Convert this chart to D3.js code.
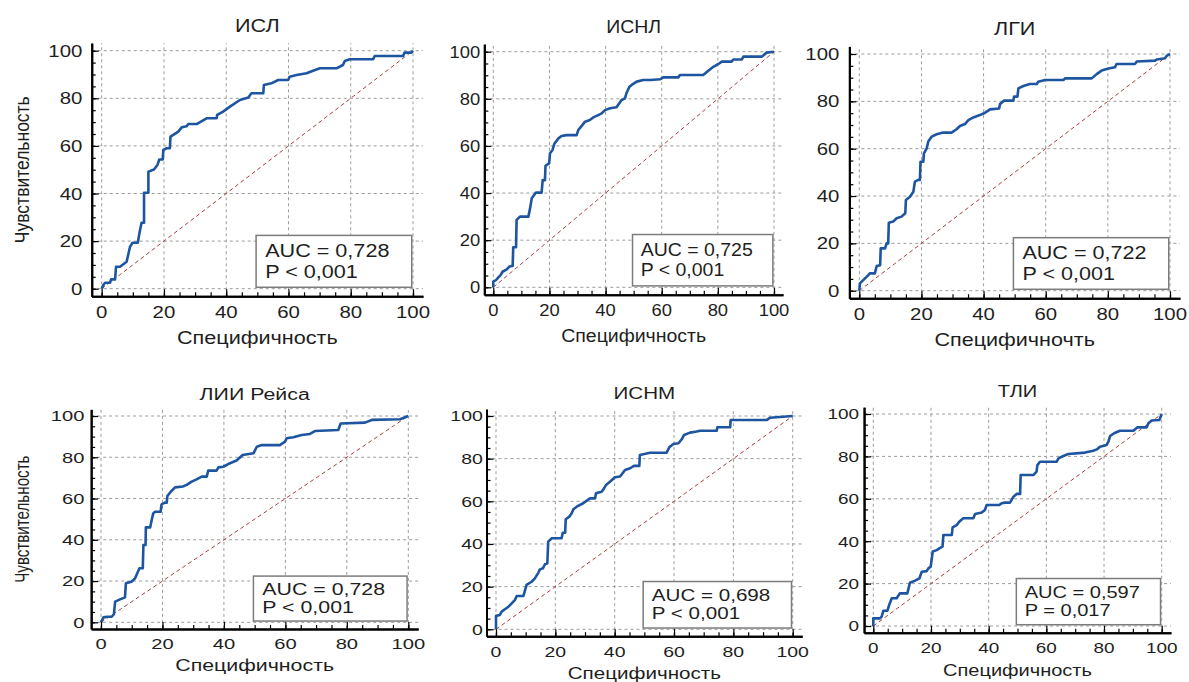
<!DOCTYPE html>
<html>
<head>
<meta charset="utf-8">
<script src="https://cdn.jsdelivr.net/npm/d3@7"></script>
<style>
  html, body { margin: 0; padding: 0; background: #fff; }
  svg { display: block; }
  text { font-family: "Liberation Sans", Arial, sans-serif; fill: #1e1e1e; }
</style>
</head>
<body>
<svg id="chart" width="1189" height="682"></svg>
<script>
// ---- labels ----
const titles = ["ИСЛ", "ИСНЛ", "ЛГИ", "ЛИИ Рейса", "ИСНМ", "ТЛИ"];
const xTitles = ["Специфичность", "Специфичность", "Специфичночть",
                 "Специфичность", "Специфичность", "Специфичность"];
const yTitle = "Чувствительность";
const aucLabels = ["AUC = 0,728", "AUC = 0,725", "AUC = 0,722",
                   "AUC = 0,728", "AUC = 0,698", "AUC = 0,597"];
const pLabels = ["P < 0,001", "P < 0,001", "P < 0,001",
                 "P < 0,001", "P < 0,001", "P = 0,017"];
const majorTicks = [0, 20, 40, 60, 80, 100];
const minorTicks = d3.range(0, 101, 5);

// ---- ROC curves: [specificity, sensitivity] ----
const rocISL = [[0,0],[0.5,1.5],[1.1,2.5],[2.7,2.5],[3.0,3.9],[4.3,3.9],[4.6,9.2],[5.9,9.2],[8.0,11.3],[9.1,17.6],[9.9,19.3],[11.6,19.3],[12.1,23.2],[12.8,27.7],[13.6,27.7],[13.6,40.3],[15.0,40.3],[15.0,49.2],[16.8,50.1],[17.9,52.0],[18.5,54.3],[19.6,54.3],[19.8,58.3],[20.9,59.0],[21.9,59.0],[22.1,63.9],[23.0,64.6],[24.6,66.0],[25.7,67.8],[27.3,68.3],[27.8,69.2],[30.5,69.2],[33.7,71.6],[36.9,71.6],[37.1,73.0],[39.0,74.4],[41.2,76.5],[44.4,79.3],[47.1,80.3],[48.1,82.1],[51.9,82.1],[52.1,85.6],[54.5,86.3],[56.7,87.7],[59.9,87.7],[60.4,89.1],[62.6,89.8],[65.8,90.5],[67.9,91.6],[70.1,92.6],[75.4,92.6],[77.5,94.0],[78.1,95.7],[79.7,96.4],[87.2,96.4],[87.7,97.8],[96.8,97.8],[97.3,99.2],[99.5,99.2],[100,100]];
const rocISNL = [[0,0],[0,2.4],[1.0,3.1],[1.8,4.2],[2.6,5.2],[3.3,6.6],[4.8,7.6],[5.7,8.8],[6.9,9.1],[7.1,17.0],[8.1,17.0],[8.3,28.6],[9.5,30.0],[12.5,30.0],[13.1,33.5],[13.7,37.8],[15.2,40.2],[17.2,40.2],[17.6,45.5],[18.4,45.5],[18.6,51.6],[19.9,52.6],[20.2,56.9],[21.1,58.3],[21.7,60.8],[23.2,63.2],[24.3,64.2],[26.1,64.6],[29.7,64.6],[30.3,66.8],[31.5,68.5],[32.7,70.3],[34.4,71.0],[35.6,72.1],[37.4,73.1],[38.6,73.8],[39.8,75.2],[41.6,76.0],[43.9,76.4],[45.7,79.5],[46.9,80.2],[47.5,82.6],[48.5,85.1],[49.3,85.9],[51.1,87.3],[53.4,88.0],[55.8,88.0],[59.4,88.3],[60.6,89.1],[65.9,89.1],[66.5,90.1],[74.8,90.1],[76.6,91.9],[78.4,93.6],[80.2,94.8],[81.4,95.8],[84.9,95.8],[85.5,96.7],[88.5,96.7],[89.1,97.9],[95.6,97.9],[97.4,99.6],[100,100]];
const rocLGI = [[0,0],[0.2,3.1],[1.5,4.8],[2.9,6.6],[3.4,7.3],[5.0,7.3],[5.6,10.4],[6.7,10.8],[6.9,17.9],[8.3,17.9],[8.8,20.0],[9.3,20.0],[9.5,28.7],[10.9,29.2],[12.0,30.6],[13.6,31.3],[14.8,32.7],[15.0,38.3],[16.3,39.7],[17.4,41.8],[17.9,46.1],[19.0,46.8],[19.5,46.8],[19.7,54.5],[20.6,54.5],[20.8,58.0],[21.7,60.1],[22.2,63.0],[23.3,65.1],[24.9,66.1],[27.0,66.8],[29.7,66.8],[31.3,68.2],[32.4,69.6],[34.0,70.4],[35.1,72.1],[36.7,73.2],[38.8,74.2],[40.5,75.2],[42.1,76.6],[45.0,77.0],[45.3,78.9],[46.6,80.3],[49.6,80.3],[49.8,82.0],[50.9,82.0],[51.2,85.5],[52.8,86.5],[54.9,87.3],[57.1,87.3],[57.6,88.3],[59.8,89.0],[65.7,89.0],[66.2,89.7],[74.8,89.7],[76.4,91.5],[78.0,93.0],[80.2,93.9],[82.3,94.4],[82.8,95.8],[88.7,95.8],[89.3,96.8],[95.2,97.2],[95.7,97.7],[98.4,98.2],[98.9,99.2],[100,100]];
const rocLII = [[0,0],[0.8,2.4],[2.0,2.7],[3.5,2.7],[4.2,3.9],[4.6,10.0],[6.2,11.1],[7.8,12.1],[8.1,18.9],[9.9,19.7],[11.1,21.3],[12.5,26.2],[13.6,26.2],[13.8,37.5],[14.5,37.5],[14.6,46.0],[16.0,46.0],[16.5,49.6],[17.0,52.8],[17.6,53.6],[19.4,53.6],[19.7,57.2],[20.8,58.0],[21.4,58.0],[21.6,61.2],[22.7,63.3],[24.1,65.4],[26.6,65.8],[27.9,66.6],[29.5,68.2],[31.1,69.3],[32.8,70.6],[34.4,70.6],[34.9,73.5],[37.6,73.5],[38.2,75.1],[39.8,75.4],[41.4,76.7],[44.1,78.4],[46.1,81.1],[49.6,81.9],[50.7,85.1],[52.3,85.9],[58.2,85.9],[59.9,87.6],[60.4,89.2],[62.6,89.7],[65.3,90.8],[68.0,91.3],[69.6,92.7],[77.2,93.2],[78.0,96.4],[85.9,96.8],[88.1,98.1],[97.3,98.4],[100,100]];
const rocISNM = [[0,0],[0,6.3],[1.3,6.7],[1.9,8.3],[3.0,9.4],[4.2,10.6],[5.3,12.2],[6.4,13.8],[7.0,15.6],[9.2,15.6],[9.8,18.4],[10.3,20.8],[12.0,22.3],[13.1,23.9],[14.3,26.6],[14.8,28.1],[15.8,28.6],[16.5,30.5],[17.3,30.9],[17.6,41.1],[18.8,42.7],[22.1,42.7],[22.5,45.3],[23.3,45.3],[23.5,51.6],[24.7,52.8],[25.5,54.4],[26.1,56.3],[27.2,57.5],[29.4,59.1],[30.6,60.3],[31.7,61.4],[33.4,61.4],[33.7,63.8],[35.6,64.5],[36.2,65.6],[37.1,67.7],[38.4,69.2],[40.1,71.3],[41.8,71.6],[43.5,74.7],[45.2,75.5],[46.5,76.6],[48.3,76.6],[48.5,81.7],[51.9,82.8],[57.5,82.8],[58.4,85.3],[59.8,86.9],[61.5,87.2],[62.6,89.1],[63.4,91.1],[65.4,92.2],[67.6,92.7],[68.8,93.1],[74.4,93.1],[74.6,94.7],[78.9,94.7],[79.1,98.1],[91.2,98.1],[92.4,99.2],[100,100]];
const rocTLI = [[0,0],[0,3.6],[2.3,3.6],[2.9,4.4],[3.5,7.2],[4.9,7.2],[5.5,9.9],[6.4,13.1],[8.1,13.1],[9.2,15.4],[11.8,15.4],[12.7,20.4],[14.5,21.4],[16.0,22.5],[16.8,25.6],[18.5,25.9],[19.1,27.2],[19.9,28.0],[20.6,35.1],[22.0,35.8],[22.9,36.6],[24.0,37.4],[24.3,42.9],[27.2,42.9],[27.5,46.5],[28.9,47.6],[29.8,49.2],[31.2,50.8],[34.7,50.8],[35.3,52.8],[37.6,53.5],[38.7,54.7],[39.3,57.1],[43.7,57.1],[44.5,57.9],[45.7,58.2],[47.4,58.2],[48.6,61.0],[49.7,62.3],[50.9,62.3],[51.1,71.2],[55.5,71.2],[56.6,72.8],[56.9,75.9],[57.8,77.5],[63.6,77.5],[64.2,79.1],[65.9,80.2],[67.6,81.1],[73.4,81.8],[76.3,82.7],[77.5,83.3],[78.6,84.6],[80.9,85.4],[81.5,86.9],[82.1,89.6],[83.5,90.9],[85.5,92.1],[90.2,92.1],[91.6,93.7],[94.8,93.7],[95.4,95.6],[96.5,96.9],[99.2,97.2],[100,100]];
const curves = [rocISL, rocISNL, rocLGI, rocLII, rocISNM, rocTLI];

// ---- panel placement: pixel position of 0 and 100 on each axis ----
const frames = [
  { x0: 101.7, x100: 413.0, y0: 288.7, y100: 50.7, gap: 9.4, showY: true },
  { x0: 493.3, x100: 774.0, y0: 287.3, y100: 51.7, gap: 4.0, showY: false },
  { x0: 859.3, x100: 1170.0, y0: 290.7, y100: 54.0, gap: 10.0, showY: false },
  { x0: 101.0, x100: 408.3, y0: 622.3, y100: 416.0, gap: 6.7, showY: true },
  { x0: 496.0, x100: 792.7, y0: 629.3, y100: 416.0, gap: 3.7, showY: false },
  { x0: 873.3, x100: 1161.7, y0: 626.0, y100: 414.0, gap: 5.0, showY: false }
];

const PAD_LO = -3.2, PAD_HI = 103.2;   // axis extent beyond the 0..100 range
const BASE_X = 2.592, BASE_Y = 2.38;   // px per unit at which text is unstretched

const svg = d3.select("#chart");

function label(g, x, y, str, opts) {
  const t = g.append("text")
    .attr("transform", `translate(${x},${y}) scale(${opts.sx},1)` + (opts.rotate ? " rotate(-90)" : ""))
    .attr("text-anchor", opts.anchor || "start")
    .style("font-size", opts.size + "px")
    .text(str);
  if (opts.central) t.attr("dominant-baseline", "central");
  return t;
}

frames.forEach((f, i) => {
  const g = svg.append("g");
  const base = {
    x: d3.scaleLinear().domain([0, 100]).range([f.x0, f.x100]),
    y: d3.scaleLinear().domain([0, 100]).range([f.y0, f.y100])
  };
  const x = d3.scaleLinear().domain([PAD_LO, PAD_HI]).range([base.x(PAD_LO), base.x(PAD_HI)]);
  const y = d3.scaleLinear().domain([PAD_LO, PAD_HI]).range([base.y(PAD_LO), base.y(PAD_HI)]);

  const gx = (f.x100 - f.x0) / 100 / BASE_X;
  const gy = (f.y0 - f.y100) / 100 / BASE_Y;
  const sx = gx / gy;

  const xL = x(PAD_LO), xR = x(PAD_HI), yB = y(PAD_LO), yT = y(PAD_HI);

  // dashed grid
  const grid = g.append("g")
    .attr("stroke", "#9c9c9c").attr("stroke-width", 1).attr("stroke-dasharray", "3,3");
  grid.selectAll("line.h").data(majorTicks).join("line").attr("class", "h")
    .attr("x1", xL).attr("x2", xR).attr("y1", d => y(d)).attr("y2", d => y(d));
  grid.selectAll("line.v").data(majorTicks).join("line").attr("class", "v")
    .attr("y1", yB).attr("y2", yT).attr("x1", d => x(d)).attr("x2", d => x(d));

  // reference diagonal
  g.append("line")
    .attr("x1", x(0)).attr("y1", y(0)).attr("x2", x(100)).attr("y2", y(100))
    .attr("stroke", "#a8403f").attr("stroke-width", 1).attr("stroke-dasharray", "4,3");

  // ROC curve
  g.append("path")
    .datum(curves[i])
    .attr("fill", "none")
    .attr("stroke", "#1d55a0")
    .attr("stroke-width", 2.6)
    .attr("stroke-linejoin", "round")
    .attr("d", d3.line().x(d => x(d[0])).y(d => y(d[1])));

  // AUC box
  g.append("rect")
    .attr("x", x(49.6)).attr("y", y(22.4))
    .attr("width", x(99.6) - x(49.6)).attr("height", y(0.6) - y(22.4))
    .attr("fill", "#fff").attr("stroke", "#7c7c7c").attr("stroke-width", 1.5);
  label(g, x(52.5), y(13.4), aucLabels[i], { sx, size: 18 * gy });
  label(g, x(52.5), y(4.6), pLabels[i], { sx, size: 18 * gy });

  // axes with inward ticks
  const axisStyle = sel => {
    sel.selectAll("text").remove();
    sel.selectAll("path.domain").attr("stroke", "#000").attr("stroke-width", 2);
    sel.selectAll(".tick line").attr("stroke", "#000").attr("stroke-width", 1.2);
  };
  g.append("g").attr("transform", `translate(${xL},0)`)
    .call(d3.axisLeft(y).tickValues(minorTicks).tickSizeInner(-4).tickSizeOuter(0))
    .call(axisStyle);
  g.append("g").attr("transform", `translate(${xL},0)`)
    .call(d3.axisLeft(y).tickValues(majorTicks).tickSizeInner(-7).tickSizeOuter(0))
    .call(axisStyle);
  g.append("g").attr("transform", `translate(0,${yB})`)
    .call(d3.axisBottom(x).tickValues(minorTicks).tickSizeInner(-4).tickSizeOuter(0))
    .call(axisStyle);
  g.append("g").attr("transform", `translate(0,${yB})`)
    .call(d3.axisBottom(x).tickValues(majorTicks).tickSizeInner(-7).tickSizeOuter(0))
    .call(axisStyle);

  // tick labels
  const tickSize = 17 * gy;
  majorTicks.forEach(v => {
    label(g, xL - f.gap, y(v) + 0.36 * tickSize, String(v), { sx, size: tickSize, anchor: "end" });
    label(g, x(v), yB + 14 + 7.5 * gy, String(v), { sx, size: tickSize, anchor: "middle" });
  });

  // titles
  const cx = (f.x0 + f.x100) / 2;
  label(g, cx, f.y100 - 19 * gy, titles[i], { sx, size: 18 * gy, anchor: "middle" });
  label(g, cx, yB + 48 * gy, xTitles[i], { sx, size: 18 * gy, anchor: "middle" });
  if (f.showY) {
    label(g, 22, (f.y0 + f.y100) / 2, yTitle,
      { sx, size: 17.5 * gy, anchor: "middle", rotate: true, central: true });
  }
});
</script>
</body>
</html>
